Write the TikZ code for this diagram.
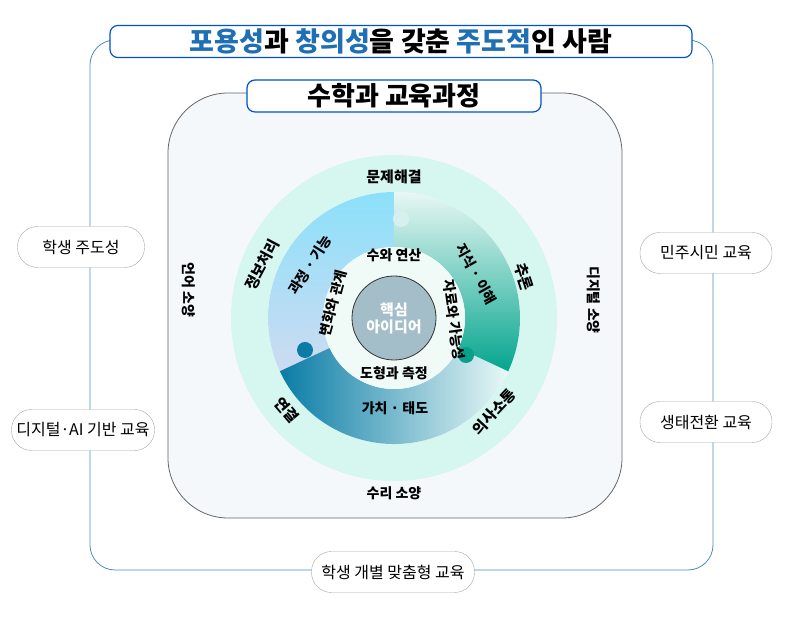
\documentclass[tikz,border=0pt]{standalone}
\usepackage{fontspec}
\usetikzlibrary{calc}
\setmainfont{Noto Sans CJK KR}
\begin{document}
\begin{tikzpicture}[x=1pt,y=1pt,
  pill/.style={draw=gray!70,fill=white,rounded corners=20pt,minimum height=41pt,font=\fontsize{16}{18}\selectfont},
  hdr/.style={draw=blue!60!cyan!80!black,line width=1.2pt,fill=white,rounded corners=8pt},
  ol/.style={font=\bfseries\fontsize{15}{17}\selectfont},
  ml/.style={font=\bfseries\fontsize{14}{16}\selectfont},
  il/.style={font=\bfseries\fontsize{14}{16}\selectfont}]
\definecolor{tb}{HTML}{1F6FB5}
\useasboundingbox (0,0) rectangle (791,617);
\coordinate (C) at (394,299);
% outer frame
\draw[tb!80,line width=0.8pt,rounded corners=25pt] (90,47) rectangle (713,577);
\node[hdr,minimum width=582pt,minimum height=31pt,font=\bfseries\fontsize{27}{30}\selectfont] (title) at (401,575.5)
 {\textcolor{tb}{포용성}과 \textcolor{tb}{창의성}을 갖춘 \textcolor{tb}{주도적}인 사람};
% inner square
\draw[gray!80!black,line width=0.8pt,fill={rgb,255:red,244;green,248;blue,251},rounded corners=60pt] (168,99) rectangle (622,524);
\node[hdr,minimum width=294pt,minimum height=32pt,font=\bfseries\fontsize{26}{29}\selectfont] (sub) at (394,521) {수학과 교육과정};
% rings
\fill[fill={rgb,255:red,214;green,246;blue,240}] (C) circle (163);
\fill[white] (C) circle (126);
\shade[top color={rgb,255:red,140;green,224;blue,250},bottom color={rgb,255:red,205;green,219;blue,241}]
 ($(C)+(90:126)$) arc (90:205:126) -- ($(C)+(205:71)$) arc (205:90:71) -- cycle;
\shade[left color={rgb,255:red,10;green,124;blue,166},right color={rgb,255:red,232;green,248;blue,246}]
 ($(C)+(205:126)$) arc (205:335:126) -- ($(C)+(335:71)$) arc (335:205:71) -- cycle;
\shade[top color={rgb,255:red,232;green,247;blue,244},bottom color={rgb,255:red,4;green,165;blue,142}]
 ($(C)+(335:126)$) arc (335:450:126) -- ($(C)+(90:71)$) arc (90:-25:71) -- cycle;
\fill[fill={rgb,255:red,214;green,240;blue,240}] (401,398) circle (8);
\fill[fill={rgb,255:red,8;green,160;blue,140}] (466,262) circle (8);
\fill[fill={rgb,255:red,12;green,124;blue,166}] (305,267) circle (8);
\fill[fill={rgb,255:red,240;green,251;blue,248}] (C) circle (71);
\node[circle,draw=gray!40!black,line width=0.8pt,fill={rgb,255:red,163;green,190;blue,201},minimum size=84pt,
 text=white,font=\bfseries\fontsize{15}{17}\selectfont,align=center] (core) at (C) {핵심\\아이디어};
% outer ring labels
\node[ol] (l1) at (394,440) {문제해결};
\node[ol,rotate=62] (l2) at (262,352) {정보처리};
\node[ol,rotate=-72] (l3) at (524,340) {추론};
\node[ol,rotate=-50] (l4) at (287,207) {연결};
\node[ol,rotate=47] (l5) at (494,205) {의사소통};
% middle labels
\node[ml,rotate=58] (m1) at (310,352) {과정 · 기능};
\node[ml,rotate=-61] (m2) at (476,343) {지식 · 이해};
\node[ml] (m3) at (395,209) {가치 · 태도};
% inner labels
\node[il] (i1) at (394,362) {수와 연산};
\node[il,rotate=75] (i2) at (333,314) {변화와 관계};
\node[il,rotate=-82] (i3) at (454,297) {자료와 가능성};
\node[il] (i4) at (394,244) {도형과 측정};
% literacy
\node[ol,rotate=-90,font=\bfseries\fontsize{14}{16}\selectfont] (s1) at (189,327) {언어 소양};
\node[ol,rotate=-90,font=\bfseries\fontsize{14}{16}\selectfont] (s2) at (594,317) {디지털 소양};
\node[ol,font=\bfseries\fontsize{14}{16}\selectfont] (s3) at (394,124) {수리 소양};
% side pills
\node[pill,minimum width=127pt] (p1) at (81,370) {학생 주도성};
\node[pill,minimum width=143pt,inner xsep=2pt] (p2) at (83,187) {디지털·AI 기반 교육};
\node[pill,minimum width=132pt] (p3) at (706,364) {민주시민 교육};
\node[pill,minimum width=132pt] (p4) at (706,195) {생태전환 교육};
\node[pill,minimum width=163pt] (p5) at (393,45) {학생 개별 맞춤형 교육};
\end{tikzpicture}
\end{document}
